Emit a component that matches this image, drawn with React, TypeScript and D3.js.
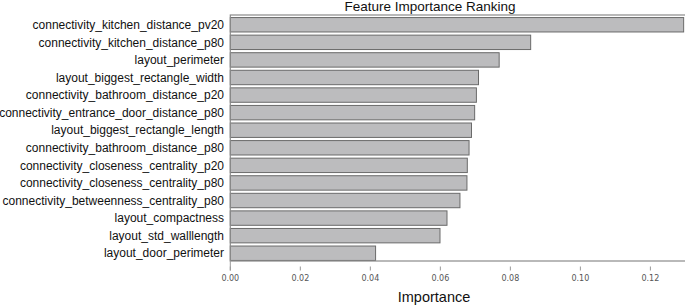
import * as d3 from "d3";
import { useEffect, useRef } from "react";

const features = [
  "connectivity_kitchen_distance_pv20",
  "connectivity_kitchen_distance_p80",
  "layout_perimeter",
  "layout_biggest_rectangle_width",
  "connectivity_bathroom_distance_p20",
  "connectivity_entrance_door_distance_p80",
  "layout_biggest_rectangle_length",
  "connectivity_bathroom_distance_p80",
  "connectivity_closeness_centrality_p20",
  "connectivity_closeness_centrality_p80",
  "connectivity_betweenness_centrality_p80",
  "layout_compactness",
  "layout_std_walllength",
  "layout_door_perimeter",
];

const importance = [
  0.1295, 0.0858, 0.0768, 0.0709, 0.0703, 0.0698, 0.0689, 0.0682, 0.0677,
  0.0676, 0.0656, 0.0619, 0.0599, 0.0415,
];

const xTicks = [0, 0.02, 0.04, 0.06, 0.08, 0.1, 0.12];

export default function App() {
  const ref = useRef<SVGSVGElement>(null);

  useEffect(() => {
    const width = 685;
    const height = 305;
    const left = 230.3;
    const right = 684;
    const top = 15;
    const bottom = 261;

    const svg = d3.select(ref.current);
    svg.selectAll("*").remove();

    const data = features.map((f, i) => ({ name: f, value: importance[i] }));

    const x = d3.scaleLinear().domain([0, 0.1296]).range([left, right]);
    const y = d3
      .scaleBand()
      .domain(features)
      .range([top + 1.5, bottom + 0.5])
      .paddingInner(0.18)
      .paddingOuter(0.06);

    svg.attr("width", width).attr("height", height);

    svg
      .append("text")
      .attr("x", 430)
      .attr("y", 11)
      .attr("text-anchor", "middle")
      .attr("font-family", "Liberation Sans, Arial, sans-serif")
      .attr("font-size", 13.5)
      .attr("fill", "#111")
      .text("Feature Importance Ranking");

    svg
      .append("g")
      .selectAll("rect")
      .data(data)
      .enter()
      .append("rect")
      .attr("x", left)
      .attr("y", (d) => y(d.name)!)
      .attr("width", (d) => x(d.value) - left)
      .attr("height", y.bandwidth())
      .attr("fill", "#bcbcbe")
      .attr("stroke", "#6a6a6a")
      .attr("stroke-width", 1);

    svg
      .append("rect")
      .attr("x", left)
      .attr("y", top)
      .attr("width", right + 3 - left)
      .attr("height", bottom - top)
      .attr("fill", "none")
      .attr("stroke", "#8a8a8a")
      .attr("stroke-width", 1.2);

    svg
      .append("g")
      .selectAll("text")
      .data(data)
      .enter()
      .append("text")
      .attr("x", 224)
      .attr("y", (d) => y(d.name)! + y.bandwidth() / 2)
      .attr("dy", "0.35em")
      .attr("text-anchor", "end")
      .attr("font-family", "Liberation Sans, Arial, sans-serif")
      .attr("font-size", 12)
      .attr("fill", "#111")
      .text((d) => d.name);

    const xAxis = svg.append("g");
    xAxis
      .selectAll("line")
      .data(xTicks)
      .enter()
      .append("line")
      .attr("x1", (d) => x(d))
      .attr("x2", (d) => x(d))
      .attr("y1", 266.5)
      .attr("y2", 270.5)
      .attr("stroke", "#999")
      .attr("stroke-width", 1);
    xAxis
      .append("line")
      .attr("x1", left)
      .attr("x2", left)
      .attr("y1", bottom)
      .attr("y2", 270.5)
      .attr("stroke", "#999")
      .attr("stroke-width", 1);
    xAxis
      .selectAll("text")
      .data(xTicks)
      .enter()
      .append("text")
      .attr("x", (d) => x(d))
      .attr("y", 281)
      .attr("text-anchor", "middle")
      .attr("font-family", "DejaVu Sans, sans-serif")
      .attr("font-size", 8)
      .attr("fill", "#555")
      .text((d) => d3.format(".2f")(d));

    svg
      .append("text")
      .attr("x", 434)
      .attr("y", 302)
      .attr("text-anchor", "middle")
      .attr("font-family", "Liberation Sans, Arial, sans-serif")
      .attr("font-size", 14.5)
      .attr("fill", "#111")
      .text("Importance");
  }, []);

  return (
    <div style={{ position: "absolute", left: 0, top: 0 }}>
      <svg ref={ref}></svg>
    </div>
  );
}
